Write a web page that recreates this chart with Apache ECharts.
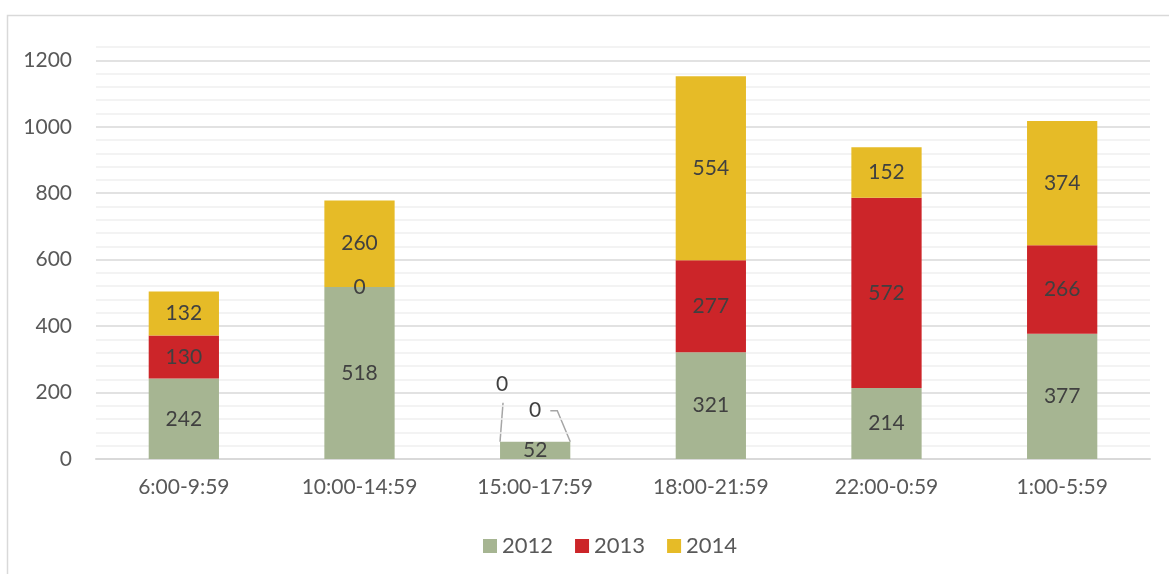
<!DOCTYPE html>
<html>
<head>
<meta charset="utf-8">
<script src="https://cdn.jsdelivr.net/npm/echarts@6/dist/echarts.min.js"></script>
<style>
  html, body { margin: 0; padding: 0; background: #fff; }
  #chart { width: 1169px; height: 574px; }
</style>
</head>
<body>
<div id="chart"></div>
<script>
const categories = ['6:00-9:59', '10:00-14:59', '15:00-17:59', '18:00-21:59', '22:00-0:59', '1:00-5:59']
const values2012 = [242, 518, 52, 321, 214, 377]
const values2013 = [130, 0, 0, 277, 572, 266]
const values2014 = [132, 260, 0, 554, 152, 374]
const yTicks = [0, 200, 400, 600, 800, 1000, 1200]

const fontFamily = 'Lato, "Open Sans", sans-serif'
const labelStyle = { show: true, position: 'inside', color: '#404040', fontSize: 21, fontFamily }
const BAR_RATIO = 0.4

// Excel moved the two zero labels of 15:00-17:59 out of the flat bar, with leader lines
const MOVED_IDX = 2
const offset2013 = [-33, -57]
const offset2014 = [0, -31]

function withOffset(values, offset) {
  return values.map((v, i) => i === MOVED_IDX ? { value: v, label: { offset } } : v)
}

const frame = {
  type: 'rect',
  shape: { x: 7.5, y: 15.5, width: 1300, height: 700 },
  style: { fill: 'none', stroke: '#d9d9d9', lineWidth: 1.5 },
  silent: true
}

const chart = echarts.init(document.getElementById('chart'))
chart.setOption({
  animation: false,
  graphic: [frame],
  grid: { left: 96, right: 19, top: 47, bottom: 115 },
  legend: {
    top: 530,
    left: 478,
    itemWidth: 14,
    itemHeight: 14,
    itemGap: 22,
    icon: 'rect',
    textStyle: { color: '#595959', fontSize: 22, fontFamily }
  },
  xAxis: {
    type: 'category',
    data: categories,
    axisLine: { lineStyle: { color: '#d9d9d9', width: 2 } },
    axisTick: { show: false },
    axisLabel: { color: '#595959', fontSize: 21, fontFamily, margin: 18 }
  },
  yAxis: {
    type: 'value',
    min: 0,
    max: 1240,
    interval: 40,
    axisLine: { show: false },
    axisTick: { show: false },
    axisLabel: {
      color: '#595959', fontSize: 21, fontFamily, margin: 24,
      formatter: v => (yTicks.indexOf(v) >= 0 ? String(v) : '')
    },
    splitLine: {
      lineStyle: { color: ['#d9d9d9', '#efefef', '#efefef', '#efefef', '#efefef'], width: 1.5 }
    }
  },
  series: [
    {
      name: '2012', type: 'bar', stack: 'total', barWidth: BAR_RATIO * 100 + '%',
      itemStyle: { color: '#a6b592' },
      label: labelStyle,
      data: values2012
    },
    {
      name: '2013', type: 'bar', stack: 'total',
      itemStyle: { color: '#cc2529' },
      label: labelStyle,
      data: withOffset(values2013, offset2013)
    },
    {
      name: '2014', type: 'bar', stack: 'total',
      itemStyle: { color: '#e6bb27' },
      label: labelStyle,
      data: withOffset(values2014, offset2014)
    }
  ]
})

// leader lines, placed from the axes' own pixel mapping
const barCx = chart.convertToPixel({ xAxisIndex: 0 }, MOVED_IDX)
const band = chart.convertToPixel({ xAxisIndex: 0 }, 1) - chart.convertToPixel({ xAxisIndex: 0 }, 0)
const half = band * BAR_RATIO / 2
const barTop = chart.convertToPixel({ yAxisIndex: 0 },
  values2012[MOVED_IDX] + values2013[MOVED_IDX] + values2014[MOVED_IDX])
const leaderStyle = { fill: 'none', stroke: '#a6a6a6', lineWidth: 1.5 }
chart.setOption({
  graphic: [frame, {
    type: 'polyline', silent: true, style: leaderStyle,
    shape: { points: [[barCx - half + 3, barTop + offset2013[1] + 18], [barCx - half, barTop]] }
  }, {
    type: 'polyline', silent: true, style: leaderStyle,
    shape: { points: [[barCx + half - 20, barTop + offset2014[1]], [barCx + half - 13, barTop + offset2014[1]], [barCx + half, barTop]] }
  }]
})
</script>
</body>
</html>
